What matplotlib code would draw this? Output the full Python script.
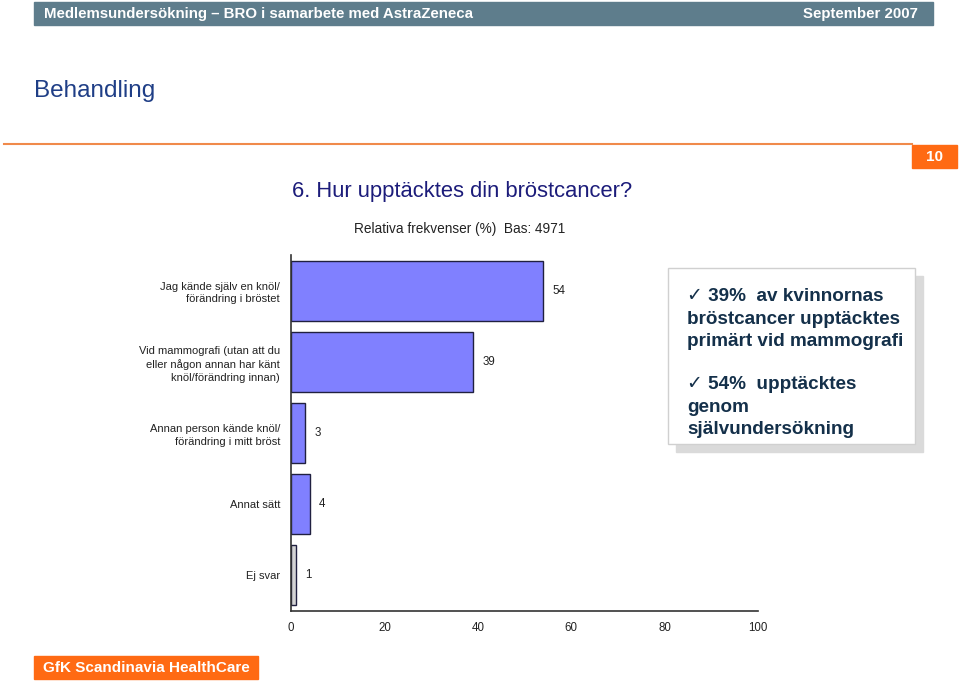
import matplotlib.pyplot as plt
from matplotlib.patches import Rectangle

# Data
kategorier = [
    "Jag kände själv en knöl/\nförändring i bröstet",
    "Vid mammografi (utan att du\neller någon annan har känt\nknöl/förändring innan)",
    "Annan person kände knöl/\nförändring i mitt bröst",
    "Annat sätt",
    "Ej svar",
]
andelar = [54, 39, 3, 4, 1]
stapelfarger = ["#8080FF", "#8080FF", "#8080FF", "#8080FF", "#D4D4D4"]
x_ticks = [0, 20, 40, 60, 80, 100]

plt.rcParams['font.family'] = ['Liberation Sans', 'DejaVu Sans']

W, H = 960, 681
fig = plt.figure(figsize=(W / 100, H / 100), dpi=100)


def fx(px):
    return px / W


def fy(py):
    return 1 - py / H


# Header bar
fig.patches.append(Rectangle((fx(34), fy(25)), fx(933) - fx(34), fy(2) - fy(25),
                             transform=fig.transFigure, color="#5E7D8C", zorder=0))
fig.text(fx(44), fy(14), "Medlemsundersökning – BRO i samarbete med AstraZeneca",
         color="white", fontsize=10.8, fontweight="bold", va="center", ha="left")
fig.text(fx(918), fy(14), "September 2007", color="white", fontsize=10.8,
         fontweight="bold", va="center", ha="right")

# Section title and orange line
fig.text(fx(34), fy(91), "Behandling", color="#1F3E86", fontsize=17.5, va="center")
fig.add_artist(plt.Line2D([fx(4), fx(912)], [fy(144), fy(144)],
                          transform=fig.transFigure, color="#F08A4B", lw=1.5))
fig.patches.append(Rectangle((fx(912), fy(168)), fx(957) - fx(912), fy(145) - fy(168),
                             transform=fig.transFigure, color="#FF6A13", zorder=0))
fig.text(fx(934.5), fy(157), "10", color="white", fontsize=11, fontweight="bold",
         ha="center", va="center")

# Question title
fig.text(fx(292), fy(192), "6. Hur upptäcktes din bröstcancer?", color="#1C1C7A",
         fontsize=15.8, va="center")
fig.text(fx(460), fy(229), "Relativa frekvenser (%)  Bas: 4971", color="#222222",
         fontsize=9.8, ha="center", va="center")

# Chart
ax = fig.add_axes([fx(291), fy(611), fx(758) - fx(291), fy(255) - fy(611)])
pos = list(range(len(kategorier)))
ax.barh(pos, andelar, height=0.845, color=stapelfarger, edgecolor="#202040", linewidth=1)
for p, v in zip(pos, andelar):
    ax.text(v + 2.0, p, str(v), va="center", ha="left", fontsize=8.3, color="#222222")
ax.set_xlim(0, 100)
ax.set_ylim(len(kategorier) - 0.5, -0.5)
ax.set_yticks(pos)
ax.set_yticklabels(kategorier, fontsize=8, color="#222222", linespacing=1.35)
ax.set_xticks(x_ticks)
ax.set_xticklabels([str(t) for t in x_ticks], fontsize=8.3, color="#222222")
ax.tick_params(axis="both", length=0)
ax.tick_params(axis="y", pad=8)
ax.tick_params(axis="x", pad=8)
for s in ["top", "right"]:
    ax.spines[s].set_visible(False)
for s in ["left", "bottom"]:
    ax.spines[s].set_color("#333333")
    ax.spines[s].set_linewidth(1.2)

# Comment box with shadow
fig.patches.append(Rectangle((fx(676), fy(452)), fx(923) - fx(676), fy(276) - fy(452),
                             transform=fig.transFigure, color="#DADADA", zorder=1))
fig.patches.append(Rectangle((fx(668), fy(444)), fx(915) - fx(668), fy(268) - fy(444),
                             transform=fig.transFigure, facecolor="white",
                             edgecolor="#D0D0D0", lw=1, zorder=2))
rader = [
    (296, "✓ 39%  av kvinnornas"),
    (319, "bröstcancer upptäcktes"),
    (341, "primärt vid mammografi"),
    (385, "✓ 54%  upptäcktes"),
    (407, "genom"),
    (429, "självundersökning"),
]
for y, t in rader:
    fig.text(fx(687), fy(y), t, color="#14304A", fontsize=13.6, fontweight="bold",
             va="center", ha="left", zorder=3)

# Footer
fig.patches.append(Rectangle((fx(34), fy(679)), fx(258) - fx(34), fy(656) - fy(679),
                             transform=fig.transFigure, color="#FF6A13", zorder=0))
fig.text(fx(146), fy(667.5), "GfK Scandinavia HealthCare", color="white", fontsize=11,
         fontweight="bold", ha="center", va="center")

fig.savefig("out.png", dpi=100)
